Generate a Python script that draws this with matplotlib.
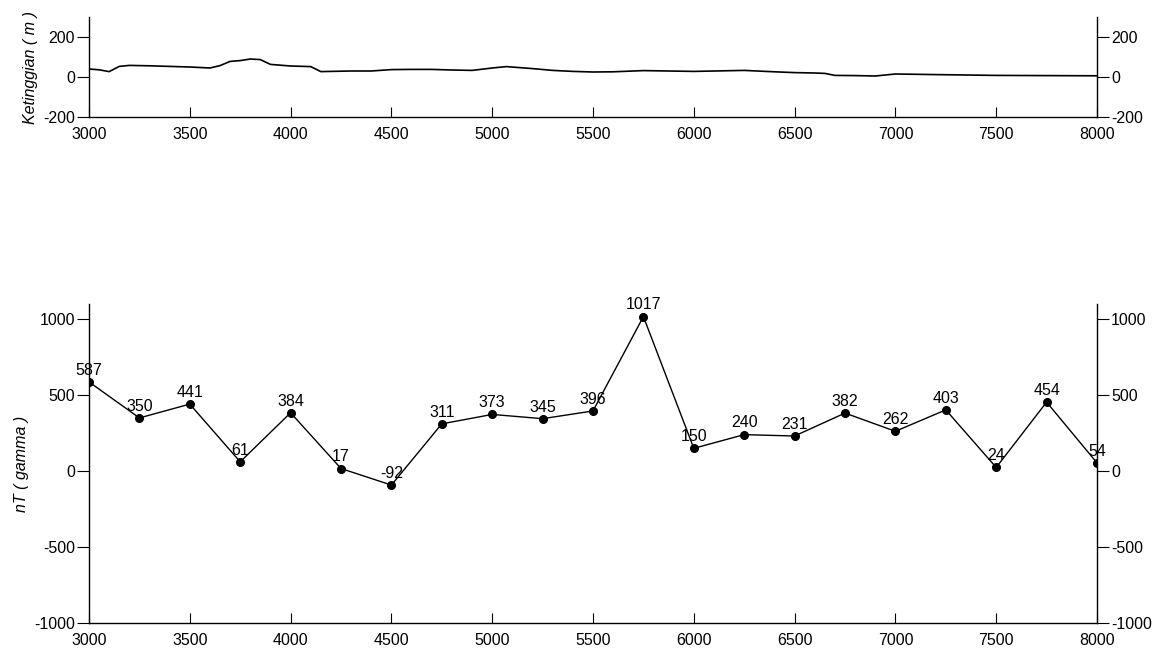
import matplotlib
matplotlib.use("Agg")
import matplotlib.pyplot as plt

plt.rcParams['font.family'] = ['Liberation Sans', 'DejaVu Sans']
plt.rcParams['axes.unicode_minus'] = False

# Elevation profile (top panel)
elev_x = [3000, 3050, 3100, 3150, 3200, 3300, 3400, 3500, 3600, 3650, 3700, 3750, 3800, 3850,
          3900, 4000, 4100, 4150, 4200, 4300, 4400, 4500, 4600, 4700, 4800, 4900, 5000, 5070,
          5200, 5300, 5400, 5500, 5600, 5750, 6000, 6250, 6400, 6500, 6600, 6650, 6700, 6800,
          6900, 7000, 7200, 7500, 8000]
elev_y = [40, 36, 27, 53, 58, 56, 53, 50, 45, 57, 78, 82, 90, 87,
          63, 55, 52, 27, 28, 30, 30, 37, 38, 38, 35, 33, 45, 52,
          42, 33, 28, 25, 26, 32, 28, 33, 26, 22, 20, 18, 8, 7,
          5, 15, 12, 8, 6]

# Magnetic anomaly (bottom panel)
mag_x = [3000, 3250, 3500, 3750, 4000, 4250, 4500, 4750, 5000, 5250, 5500,
         5750, 6000, 6250, 6500, 6750, 7000, 7250, 7500, 7750, 8000]
mag_y = [587, 350, 441, 61, 384, 17, -92, 311, 373, 345, 396,
         1017, 150, 240, 231, 382, 262, 403, 24, 454, 54]

x_ticks = [3000, 3500, 4000, 4500, 5000, 5500, 6000, 6500, 7000, 7500, 8000]
elev_ticks = [-200, 0, 200]
mag_ticks = [-1000, -500, 0, 500, 1000]

FS = 11.5

fig = plt.figure(figsize=(11.62, 6.57), dpi=100)
L, R = 89 / 1162, 1097 / 1162
ax1 = fig.add_axes([L, 1 - 117 / 657, R - L, 100 / 657])
ax2 = fig.add_axes([L, 1 - 623 / 657, R - L, 319 / 657])


def style(ax, yticks):
    ax.spines['top'].set_visible(False)
    for s in ['left', 'right', 'bottom']:
        ax.spines[s].set_linewidth(1.0)
    ax.set_xlim(3000, 8000)
    ax.set_xticks(x_ticks)
    ax.set_yticks(yticks)
    ax.tick_params(axis='x', direction='in', length=7, labelsize=FS, pad=7)
    ax.tick_params(axis='y', direction='out', length=8.5, labelsize=FS,
                   left=True, right=True, labelleft=True, labelright=True, pad=1.5)


ax1.plot(elev_x, elev_y, color='black', lw=1.2)
ax1.set_ylim(-200, 300)
style(ax1, elev_ticks)
ax1.set_ylabel('Ketinggian ( m )', fontstyle='italic', fontsize=FS, labelpad=4)

ax2.plot(mag_x, mag_y, color='black', lw=1.0, marker='o', markersize=5.5)
ax2.set_ylim(-1000, 1100)
style(ax2, mag_ticks)
ax2.set_ylabel('nT ( gamma )', fontstyle='italic', fontsize=FS, labelpad=4)
for xv, yv in zip(mag_x, mag_y):
    ax2.annotate(str(yv), (xv, yv), xytext=(0, 3), textcoords='offset points',
                 ha='center', va='bottom', fontsize=FS)

fig.savefig('out.png', dpi=100)
